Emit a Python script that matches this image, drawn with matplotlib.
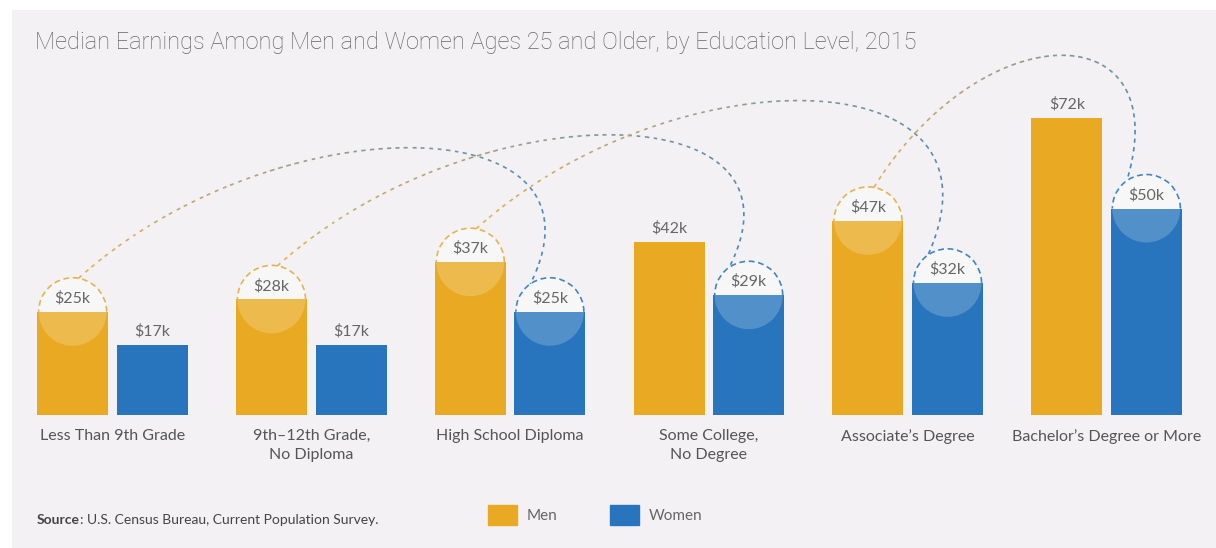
import numpy as np
import matplotlib
matplotlib.use('Agg')
import matplotlib.pyplot as plt
from matplotlib import patches
from matplotlib.collections import LineCollection
from matplotlib.colors import to_rgb
from matplotlib.transforms import IdentityTransform

# data
categories = ['Less Than 9th Grade', '9th\u201312th Grade,\nNo Diploma', 'High School Diploma',
              'Some College,\nNo Degree', "Associate\u2019s Degree", "Bachelor\u2019s Degree or More"]
men = [25, 28, 37, 42, 47, 72]
women = [17, 17, 25, 29, 32, 50]
# which bars get a dashed circle, and which men's bar links to which women's bar
men_circled = [0, 1, 2, 4]
women_circled = [2, 3, 4, 5]
links = [(0, 2), (1, 3), (2, 4), (4, 5)]

title = 'Median Earnings Among Men and Women Ages 25 and Older, by Education Level, 2015'
source = 'U.S. Census Bureau, Current Population Survey.'

GOLD = '#e9a922'
BLUE = '#2875bd'
GOLD_LINE = '#e4b352'
BLUE_LINE = '#3f86c4'
BG = '#f3f1f4'
W, H = 1216, 548

plt.rcParams['font.family'] = ['Lato', 'DejaVu Sans']

fig = plt.figure(figsize=(W / 100, H / 100), dpi=100)
fig.patch.set_facecolor('white')
fig.add_artist(patches.Rectangle((12 / W, 0), 1, 538 / H, transform=fig.transFigure,
                                 facecolor=BG, edgecolor='none', zorder=-10))

ax = fig.add_axes([13 / W, 133 / H, 1193 / W, 413 / H])
ax.set_xlim(-0.5, 5.5)
ax.set_ylim(0, 100)
ax.axis('off')

x = np.arange(len(categories))
bw = 0.357
men_bars = ax.bar(x - 0.2, men, width=bw, color=GOLD, zorder=2)
women_bars = ax.bar(x + 0.2, women, width=bw, color=BLUE, zorder=2)

px_x = ax.bbox.width / 6.0
px_y = ax.bbox.height / 100.0
r = 34
rx, ry = r / px_x, r / px_y


def circle(bar, color):
    xc = bar.get_x() + bar.get_width() / 2
    top = bar.get_height()
    # lighter upper half (outside the bar)
    clip = patches.Rectangle((xc - rx, top), 2 * rx, ry, transform=ax.transData)
    up = patches.Ellipse((xc, top), 2 * rx, 2 * ry, facecolor='white', alpha=0.45,
                         edgecolor='none', zorder=1)
    ax.add_patch(up)
    up.set_clip_path(clip)
    # lighter lower half (inside the bar)
    low = patches.Ellipse((xc, top), 2 * rx, 2 * ry, facecolor='white', alpha=0.2,
                          edgecolor='none', zorder=3)
    ax.add_patch(low)
    low.set_clip_path(bar)
    ax.add_patch(patches.Arc((xc, top), 2 * rx, 2 * ry, theta1=0, theta2=180,
                             color=color, lw=1.2, linestyle=(0, (3.5, 2.2)), zorder=4))


for i in men_circled:
    circle(men_bars[i], GOLD_LINE)
for i in women_circled:
    circle(women_bars[i], BLUE_LINE)

for bars, vals in ((men_bars, men), (women_bars, women)):
    for b, v in zip(bars, vals):
        ax.annotate(f'${v}k', (b.get_x() + b.get_width() / 2, v), xytext=(0, 4.5),
                    textcoords='offset points', ha='center', va='bottom',
                    fontsize=11.5, color='#666666', zorder=5)

for i, lab in enumerate(categories):
    ax.annotate(lab, (i, 0), xytext=(0, -10), textcoords='offset points', ha='center',
                va='top', fontsize=11.5, color='#555555', linespacing=1.45, annotation_clip=False)


# gradient dashed links between equal-ish earnings
def bezier(p0, p1, p2, p3, n=600):
    t = np.linspace(0, 1, n)[:, None]
    return ((1 - t) ** 3) * p0 + 3 * ((1 - t) ** 2) * t * p1 + 3 * (1 - t) * t ** 2 * p2 + t ** 3 * p3


c0, c1 = np.array(to_rgb(GOLD_LINE)), np.array(to_rgb(BLUE_LINE))
dash, gap = 5.0, 3.5
for mi, wi in links:
    mb, wb = men_bars[mi], women_bars[wi]
    s = ax.transData.transform((mb.get_x() + mb.get_width() / 2, mb.get_height()))
    e = ax.transData.transform((wb.get_x() + wb.get_width() / 2, wb.get_height()))
    a0, a1 = np.radians(80), np.radians(125)
    p0 = s + r * np.array([np.cos(a0), np.sin(a0)])
    p3 = e + r * np.array([np.cos(a1), np.sin(a1)])
    d = p3[0] - p0[0]
    lift = 175
    p1 = np.array([p0[0] + 0.43 * d, p0[1] + lift])
    p2 = np.array([p3[0] + 0.2 * d, p0[1] + lift])
    pts = bezier(p0, p1, p2, p3)
    seg_len = np.hypot(*np.diff(pts, axis=0).T)
    cum = np.concatenate([[0], np.cumsum(seg_len)])
    total = cum[-1]
    segs, cols = [], []
    pos = 0.0
    while pos < total:
        mask = (cum >= pos) & (cum <= min(pos + dash, total))
        if mask.sum() >= 2:
            segs.append(pts[mask])
            f = (pos + dash / 2) / total
            cols.append(c0 * (1 - f) + c1 * f)
        pos += dash + gap
    lc = LineCollection(segs, colors=cols, linewidths=1.2, transform=IdentityTransform(), zorder=4)
    fig.add_artist(lc)

fig.text(35 / W, 1 - 42 / H, title, va='center', ha='left', fontsize=17,
         family=['Roboto', 'DejaVu Sans'], fontweight='light', color='#666666')

# footer
t1 = fig.text(37 / W, 1 - 520 / H, 'Source', fontweight='bold', fontsize=10, color='#444444', va='center')
fig.canvas.draw()
bb = t1.get_window_extent()
fig.text(bb.x1 / W, 1 - 520 / H, ': ' + source, fontsize=10, color='#444444', va='center')

handles = [patches.Patch(color=GOLD, label='Men'), patches.Patch(color=BLUE, label='Women')]
leg = fig.legend(handles=handles, loc='center left', bbox_to_anchor=(488 / W, 1 - 515 / H),
                 ncol=2, frameon=False, fontsize=11, handlelength=1.9, handleheight=1.57,
                 handletextpad=0.65, columnspacing=3.4, borderaxespad=0, borderpad=0)
for txt in leg.get_texts():
    txt.set_color('#666666')

fig.savefig('out.png', dpi=100, facecolor=fig.get_facecolor())
